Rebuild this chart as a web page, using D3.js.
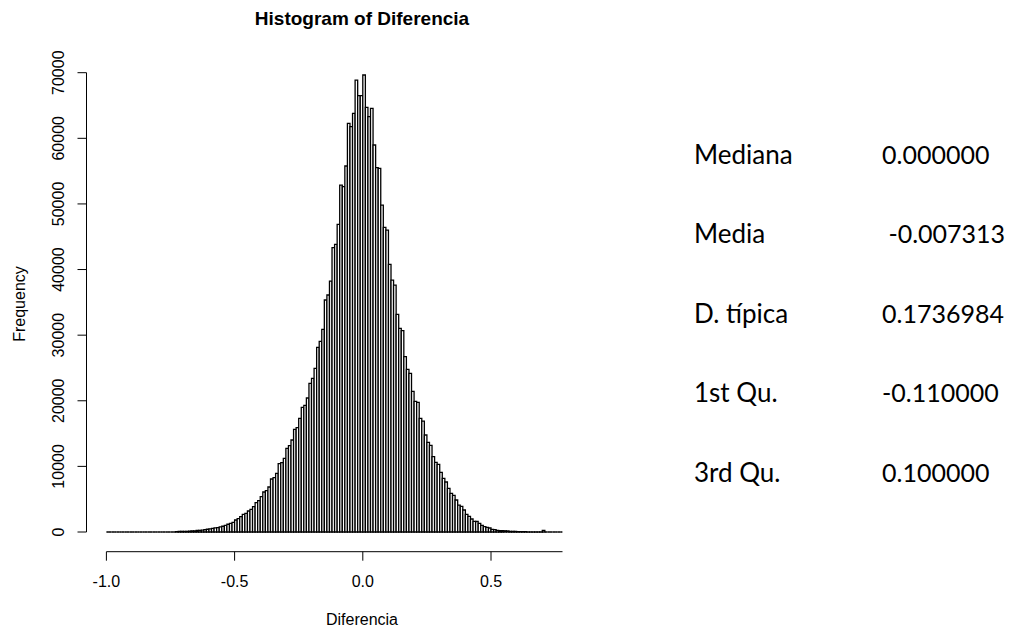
<!DOCTYPE html>
<html>
<head>
<meta charset="utf-8">
<script src="https://cdn.jsdelivr.net/npm/d3@7"></script>
<style>
  html, body { margin: 0; padding: 0; background: #fff; }
  svg { display: block; }
</style>
</head>
<body>
<svg id="chart" width="1009" height="630"></svg>
<script>
// Histogram of Diferencia: bins of width 0.01 starting at -1.00
const binStart = -1.0;
const binWidth = 0.01;
const counts = [
  0, 0, 0, 0, 0, 0, 0, 0, 0, 0,
  0, 0, 0, 0, 0, 0, 0, 0, 0, 0,
  0, 0, 0, 0, 0, 0, 0, 60, 80, 90,
  100, 110, 120, 150, 170, 230, 260, 290, 360, 420,
  480, 540, 620, 680, 780, 880, 1000, 1180, 1320, 1480,
  1830, 2030, 2330, 2690, 2850, 3200, 3460, 3860, 4470, 4770,
  5380, 6100, 6300, 6860, 8080, 8280, 8950, 10410, 10560, 11230,
  12750, 13150, 14020, 15650, 15900, 17330, 19000, 19310, 20420, 22660,
  23420, 24940, 28150, 29060, 30890, 35360, 36120, 38250, 43330, 43840,
  46890, 52880, 52630, 55780, 62280, 61770, 63800, 68880, 66500, 66500,
  69650, 64730, 63300, 64570, 58980, 55520, 55420, 49830, 46430, 46020,
  40800, 38400, 37640, 33180, 31040, 30680, 26720, 24790, 24180, 21440,
  19910, 19760, 17330, 16910, 14780, 13660, 13210, 11480, 10620, 10310,
  9100, 8180, 7620, 6660, 5890, 5590, 4880, 4110, 3910, 3350,
  2690, 2390, 1980, 1630, 1600, 1320, 1020, 810, 710, 610,
  410, 350, 260, 220, 200, 180, 160, 100, 90, 80,
  70, 60, 50, 40, 30, 30, 20, 20, 20, 10,
  250, 0, 0, 0, 0, 0, 0, 0
];

const xTicks = [-1.0, -0.5, 0.0, 0.5];
const yTicks = [0, 10000, 20000, 30000, 40000, 50000, 60000, 70000];

// Summary statistics shown beside the histogram
const statLabels = ["Mediana", "Media", "D. típica", "1st Qu.", "3rd Qu."];
const statValues = ["0.000000", " -0.007313", "0.1736984", "-0.110000", "0.100000"];

const svg = d3.select("#chart");
svg.append("rect").attr("width", 1009).attr("height", 630).attr("fill", "#fff");

const x = d3.scaleLinear().domain([-1.0, 0.5]).range([106.4, 491]);
const y = d3.scaleLinear().domain([0, 70000]).range([532, 72.7]);
const plotRight = 562.5;
const plotLeft = 86.5;

const axisFont = "'Liberation Sans', Arial, sans-serif";

svg.append("defs").append("clipPath").attr("id", "plotClip")
  .append("rect").attr("x", plotLeft).attr("y", 0)
  .attr("width", plotRight - plotLeft).attr("height", 600);

const bins = counts.map((c, i) => ({
  x0: binStart + i * binWidth,
  x1: binStart + (i + 1) * binWidth,
  count: c
}));

// each bar as an outlined path, so empty bins still leave a line on the baseline
svg.append("g").attr("clip-path", "url(#plotClip)")
  .selectAll("path.bar").data(bins).join("path")
  .attr("class", "bar")
  .attr("d", d => {
    const x0 = x(d.x0), x1 = x(d.x1), y0 = y(0), y1 = y(d.count);
    return `M${x0},${y0}V${y1}H${x1}V${y0}Z`;
  })
  .attr("fill", "#fff")
  .attr("stroke", "#000")
  .attr("stroke-width", 1.3);

// x axis
const xAxisY = 551.7;
const gx = svg.append("g").attr("transform", `translate(0,${xAxisY})`);
gx.append("line")
  .attr("x1", x(-1.0)).attr("x2", plotRight)
  .attr("y1", 0).attr("y2", 0)
  .attr("stroke", "#000").attr("stroke-width", 1);
gx.selectAll("line.tick").data(xTicks).join("line")
  .attr("class", "tick")
  .attr("x1", d => x(d)).attr("x2", d => x(d))
  .attr("y1", 0).attr("y2", 9)
  .attr("stroke", "#000").attr("stroke-width", 1);
gx.selectAll("text").data(xTicks).join("text")
  .attr("x", d => x(d)).attr("y", 35)
  .attr("text-anchor", "middle")
  .attr("font-family", axisFont).attr("font-size", 16)
  .text(d => d.toFixed(1));

// y axis
const gy = svg.append("g").attr("transform", `translate(${plotLeft},0)`);
gy.append("line")
  .attr("x1", 0).attr("x2", 0)
  .attr("y1", y(0)).attr("y2", y(70000))
  .attr("stroke", "#000").attr("stroke-width", 1);
gy.selectAll("line.tick").data(yTicks).join("line")
  .attr("class", "tick")
  .attr("x1", -9).attr("x2", 0)
  .attr("y1", d => y(d)).attr("y2", d => y(d))
  .attr("stroke", "#000").attr("stroke-width", 1);
gy.selectAll("text").data(yTicks).join("text")
  .attr("transform", d => `translate(-23,${y(d)}) rotate(-90)`)
  .attr("text-anchor", "middle")
  .attr("font-family", axisFont).attr("font-size", 16)
  .text(d => String(d));

// titles
svg.append("text")
  .attr("x", 362).attr("y", 25)
  .attr("text-anchor", "middle")
  .attr("font-family", axisFont).attr("font-size", 19).attr("font-weight", "bold")
  .text("Histogram of Diferencia");

svg.append("text")
  .attr("x", 362).attr("y", 625)
  .attr("text-anchor", "middle")
  .attr("font-family", axisFont).attr("font-size", 16)
  .text("Diferencia");

svg.append("text")
  .attr("transform", `translate(25,${y(34750)}) rotate(-90)`)
  .attr("text-anchor", "middle")
  .attr("font-family", axisFont).attr("font-size", 16)
  .text("Frequency");

// statistics table
const statFont = "Lato, 'Open Sans', sans-serif";
const rowY = d3.scaleLinear().domain([0, 4]).range([163.5, 482]);
const stats = svg.append("g");
stats.selectAll("text.lab").data(statLabels).join("text")
  .attr("class", "lab")
  .attr("x", 694).attr("y", (d, i) => rowY(i))
  .attr("font-family", statFont).attr("font-size", 26)
  .attr("fill", "#000")
  .text(d => d);
stats.selectAll("text.val").data(statValues).join("text")
  .attr("class", "val")
  .attr("x", 882).attr("y", (d, i) => rowY(i))
  .attr("font-family", statFont).attr("font-size", 25)
  .attr("fill", "#000")
  .attr("xml:space", "preserve")
  .style("white-space", "pre")
  .text(d => d);
</script>
</body>
</html>
